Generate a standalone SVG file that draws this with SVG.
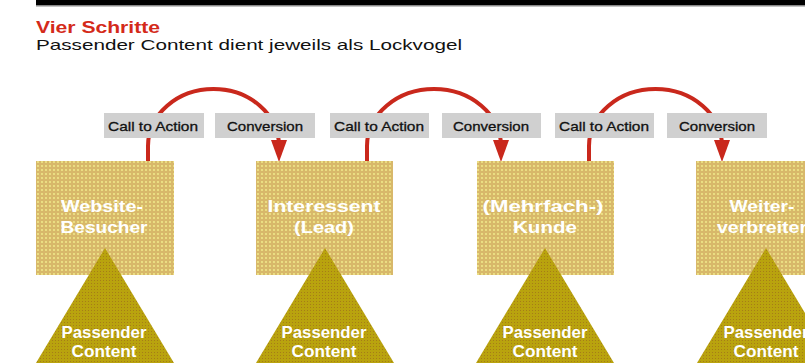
<svg xmlns="http://www.w3.org/2000/svg" width="805" height="363" viewBox="0 0 805 363">
  <defs>
    <pattern id="boxPat" width="4" height="4" patternUnits="userSpaceOnUse">
      <rect width="4" height="4" fill="#d8b86a"/>
      <circle cx="2" cy="2" r="0.9" fill="#f4ef8e"/>
    </pattern>
    <pattern id="triPat" width="3" height="3" patternUnits="userSpaceOnUse">
      <rect width="3" height="3" fill="#b9a30e"/>
      <rect x="1" y="1" width="1" height="1" fill="#a67c18"/>
    </pattern>
    <marker id="arrow" viewBox="0 0 22 16" markerWidth="22" markerHeight="16" markerUnits="userSpaceOnUse" refX="6" refY="8" orient="auto">
      <path d="M0,0 L22,8 L0,16 z" fill="#c9281c"/>
    </marker>
  </defs>
  <style>
    .box { fill: url(#boxPat); }
    .tri { fill: url(#triPat); }
    .arc { fill: none; stroke: #c9281c; stroke-width: 4; marker-end: url(#arrow); }
    .lbl { fill: #d0d0d0; }
    .lbltxt { font-family: "Liberation Sans", Arial, sans-serif; font-size: 13px; fill: #111; text-anchor: middle; stroke: #111; stroke-width: 0.3; }
    .ntxt { font-family: "Liberation Sans", Arial, sans-serif; font-size: 17px; font-weight: bold; fill: #ffffff; text-anchor: middle; }
    .title { font-family: "Liberation Sans", Arial, sans-serif; font-size: 16px; font-weight: bold; fill: #d42a1a; }
    .sub { font-family: "Liberation Sans", Arial, sans-serif; font-size: 15px; fill: #111; }
  </style>

  <rect x="36" y="0" width="769" height="5" fill="#000"/>
  <rect x="36" y="5" width="769" height="1.5" fill="#888"/>

  <text class="title" x="36" y="33" textLength="124" lengthAdjust="spacingAndGlyphs">Vier Schritte</text>
  <text class="sub" x="36" y="50" textLength="426" lengthAdjust="spacingAndGlyphs">Passender Content dient jeweils als Lockvogel</text>

  <g id="connectors">
    <path class="arc" d="M148,162 V146 A65.5,57 0 0 1 279,146"/>
    <path class="arc" d="M367,162 V146 A67,57 0 0 1 501,146"/>
    <path class="arc" d="M589,162 V146 A66.5,57 0 0 1 722,146"/>
  </g>

  <g id="labels">
    <rect class="lbl" x="104" y="113" width="100" height="25"/>
    <text class="lbltxt" x="153" y="131" textLength="90" lengthAdjust="spacingAndGlyphs">Call to Action</text>
    <rect class="lbl" x="215" y="113" width="100" height="25"/>
    <text class="lbltxt" x="265" y="131" textLength="76" lengthAdjust="spacingAndGlyphs">Conversion</text>
    <rect class="lbl" x="330" y="113" width="99" height="25"/>
    <text class="lbltxt" x="379" y="131" textLength="90" lengthAdjust="spacingAndGlyphs">Call to Action</text>
    <rect class="lbl" x="442" y="113" width="99" height="25"/>
    <text class="lbltxt" x="491" y="131" textLength="76" lengthAdjust="spacingAndGlyphs">Conversion</text>
    <rect class="lbl" x="555" y="113" width="99" height="25"/>
    <text class="lbltxt" x="604" y="131" textLength="90" lengthAdjust="spacingAndGlyphs">Call to Action</text>
    <rect class="lbl" x="667" y="113" width="100" height="25"/>
    <text class="lbltxt" x="717" y="131" textLength="76" lengthAdjust="spacingAndGlyphs">Conversion</text>
  </g>

  <g id="node1">
    <rect class="box" x="36" y="161" width="138" height="114"/>
    <text class="ntxt" x="102" y="212" textLength="82" lengthAdjust="spacingAndGlyphs">Website-</text>
    <text class="ntxt" x="104" y="233" textLength="87" lengthAdjust="spacingAndGlyphs">Besucher</text>
    <polygon class="tri" points="105,248 174,363 36,363"/>
    <text class="ntxt" x="104" y="338" textLength="85" lengthAdjust="spacingAndGlyphs">Passender</text>
    <text class="ntxt" x="104" y="357" textLength="65" lengthAdjust="spacingAndGlyphs">Content</text>
  </g>
  <g id="node2">
    <rect class="box" x="256" y="161" width="137" height="114"/>
    <text class="ntxt" x="324" y="212" textLength="113" lengthAdjust="spacingAndGlyphs">Interessent</text>
    <text class="ntxt" x="324" y="233" textLength="60" lengthAdjust="spacingAndGlyphs">(Lead)</text>
    <polygon class="tri" points="325,248 394,363 256,363"/>
    <text class="ntxt" x="324" y="338" textLength="85" lengthAdjust="spacingAndGlyphs">Passender</text>
    <text class="ntxt" x="324" y="357" textLength="65" lengthAdjust="spacingAndGlyphs">Content</text>
  </g>
  <g id="node3">
    <rect class="box" x="477" y="161" width="137" height="114"/>
    <text class="ntxt" x="543" y="212" textLength="121" lengthAdjust="spacingAndGlyphs">(Mehrfach-)</text>
    <text class="ntxt" x="545" y="233" textLength="64" lengthAdjust="spacingAndGlyphs">Kunde</text>
    <polygon class="tri" points="545,248 614,363 476,363"/>
    <text class="ntxt" x="545" y="338" textLength="85" lengthAdjust="spacingAndGlyphs">Passender</text>
    <text class="ntxt" x="545" y="357" textLength="65" lengthAdjust="spacingAndGlyphs">Content</text>
  </g>
  <g id="node4">
    <rect class="box" x="696" y="161" width="138" height="114"/>
    <text class="ntxt" x="762" y="212" textLength="65" lengthAdjust="spacingAndGlyphs">Weiter-</text>
    <text class="ntxt" x="762" y="233" textLength="90" lengthAdjust="spacingAndGlyphs">verbreiter</text>
    <polygon class="tri" points="766,248 835,363 697,363"/>
    <text class="ntxt" x="766" y="338" textLength="85" lengthAdjust="spacingAndGlyphs">Passender</text>
    <text class="ntxt" x="766" y="357" textLength="65" lengthAdjust="spacingAndGlyphs">Content</text>
  </g>
</svg>
